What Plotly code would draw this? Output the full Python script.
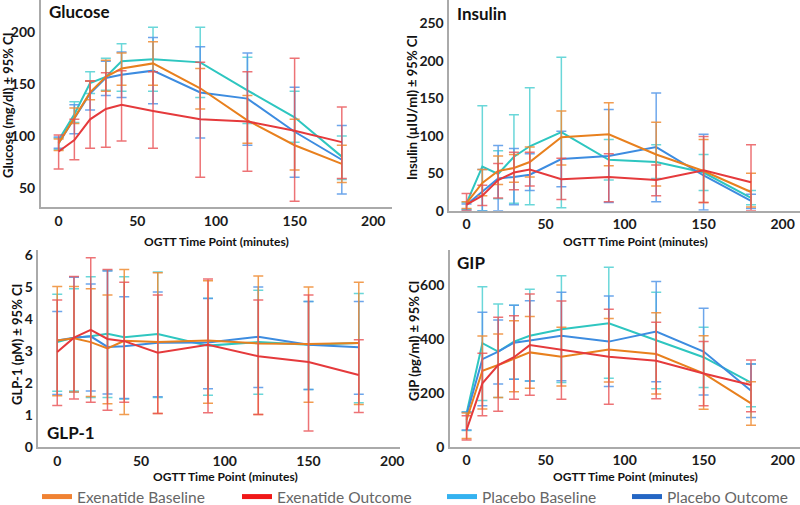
import plotly.graph_objects as go

time = [0, 10, 20, 30, 40, 60, 90, 120, 150, 180]
series_names = ["Exenatide Baseline", "Exenatide Outcome", "Placebo Baseline", "Placebo Outcome"]
x_ticks = [0, 50, 100, 150, 200]

# ---- Glucose (mg/dl) ----
glu_exb = [93, 118, 142, 157, 165, 170, 146, 115, 91, 73]
glu_exb_lo = [86, 112, 135, 143, 149, 149, 126, 93, 67, 55]
glu_exb_hi = [97, 127, 153, 173, 180, 191, 165, 139, 116, 91]
glu_exo = [85, 96, 116, 126, 130, 124, 116, 114, 105, 94]
glu_exo_lo = [68, 77, 88, 89, 95, 88, 60, 66, 37, 59]
glu_exo_hi = [101, 116, 153, 161, 163, 162, 171, 162, 175, 128]
glu_plb = [96, 121, 151, 157, 172, 174, 171, 144, 118, 80]
glu_plb_lo = [87, 113, 141, 144, 143, 143, 137, 112, 94, 58]
glu_plb_hi = [98, 133, 162, 175, 189, 205, 205, 176, 143, 100]
glu_plo = [93, 117, 141, 156, 159, 163, 142, 136, 104, 77]
glu_plo_lo = [88, 102, 125, 139, 137, 131, 98, 91, 60, 44]
glu_plo_hi = [99, 130, 153, 172, 181, 195, 186, 180, 147, 110]

# ---- Insulin (uIU/ml) ----
ins_exb = [10, 37, 53, 57, 65, 98, 102, 75, 53, 25]
ins_exb_lo = [3, 20, 35, 38, 45, 61, 60, 33, 11, 5]
ins_exb_hi = [12, 55, 73, 75, 85, 133, 144, 118, 95, 50]
ins_exo = [8, 20, 41, 51, 55, 42, 45, 41, 54, 38]
ins_exo_lo = [0, 7, 17, 28, 33, 15, 12, 20, 11, 0]
ins_exo_hi = [23, 34, 63, 78, 78, 70, 76, 61, 99, 88]
ins_plb = [10, 59, 49, 72, 86, 105, 68, 65, 51, 17]
ins_plb_lo = [2, 0, 16, 10, 8, 4, 41, 43, 27, 8]
ins_plb_hi = [11, 140, 80, 128, 164, 205, 95, 88, 75, 27]
ins_plo = [8, 25, 43, 45, 48, 69, 73, 85, 47, 13]
ins_plo_lo = [1, 0, 0, 8, 27, 32, 11, 12, 1, 3]
ins_plo_hi = [9, 55, 87, 83, 76, 106, 135, 157, 102, 22]

# ---- GLP-1 (pM) ----
glp_exb = [3.33, 3.40, 3.28, 3.08, 3.32, 3.28, 3.33, 3.24, 3.22, 3.25]
glp_exb_lo = [1.60, 1.72, 1.58, 1.35, 1.02, 1.05, 1.37, 1.02, 1.40, 1.33]
glp_exb_hi = [5.02, 5.02, 4.95, 4.75, 5.55, 5.45, 5.20, 5.35, 5.00, 5.15]
glp_exo = [2.97, 3.42, 3.66, 3.38, 3.31, 2.95, 3.20, 2.84, 2.66, 2.25]
glp_exo_lo = [1.30, 1.50, 1.40, 1.15, 1.40, 1.05, 1.07, 1.02, 0.50, 1.08]
glp_exo_hi = [4.60, 5.33, 5.92, 5.55, 5.15, 4.75, 5.25, 4.60, 4.75, 3.35]
glp_plb = [3.28, 3.42, 3.46, 3.54, 3.43, 3.53, 3.17, 3.28, 3.20, 3.25]
glp_plb_lo = [1.74, 1.75, 1.55, 1.55, 1.50, 1.55, 1.62, 1.65, 1.80, 1.38]
glp_plb_hi = [4.78, 4.95, 5.32, 5.52, 5.32, 5.47, 4.65, 4.90, 4.55, 4.80]
glp_plo = [3.33, 3.42, 3.46, 3.13, 3.15, 3.26, 3.27, 3.45, 3.20, 3.12]
glp_plo_lo = [1.64, 1.72, 1.75, 1.66, 1.52, 1.57, 1.82, 1.86, 1.80, 1.65]
glp_plo_hi = [4.24, 5.31, 5.10, 5.50, 4.70, 4.85, 4.64, 5.00, 4.55, 4.55]

# ---- GIP (pg/ml) ----
gip_exb = [100, 282, 303, 328, 350, 334, 361, 344, 272, 161]
gip_exb_lo = [30, 140, 183, 204, 217, 225, 240, 196, 139, 80]
gip_exb_hi = [125, 411, 418, 467, 483, 443, 476, 497, 412, 241]
gip_exo = [62, 235, 303, 332, 377, 359, 334, 319, 272, 229]
gip_exo_lo = [25, 115, 132, 176, 191, 176, 158, 178, 152, 130]
gip_exo_hi = [115, 347, 480, 486, 567, 541, 510, 462, 390, 322]
gip_plb = [124, 384, 353, 390, 412, 436, 458, 396, 332, 238]
gip_plb_lo = [60, 171, 183, 250, 244, 238, 254, 215, 220, 148]
gip_plb_hi = [130, 594, 530, 525, 584, 634, 666, 573, 443, 307]
gip_plo = [118, 325, 353, 386, 394, 412, 390, 427, 353, 208]
gip_plo_lo = [62, 152, 233, 250, 244, 245, 223, 241, 192, 108]
gip_plo_hi = [128, 499, 470, 525, 542, 573, 559, 613, 514, 307]

line_colors = ["#E8801E", "#E53A3C", "#2EC6C0", "#3D8CE0"]
err_colors = ["rgba(238,140,50,0.85)", "rgba(232,80,84,0.8)",
              "rgba(80,208,210,0.85)", "rgba(84,150,232,0.85)"]
legend_colors = ["#F08232", "#F01818", "#34B2F0", "#2466C4"]

W, H = 800, 505

def px_x(a, b):
    return [a / W, b / W]

def px_y(top, bottom):
    return [1 - bottom / H, 1 - top / H]

panels = [
    dict(ax="", data=[(glu_exb, glu_exb_lo, glu_exb_hi), (glu_exo, glu_exo_lo, glu_exo_hi),
                      (glu_plb, glu_plb_lo, glu_plb_hi), (glu_plo, glu_plo_lo, glu_plo_hi)]),
    dict(ax="2", data=[(ins_exb, ins_exb_lo, ins_exb_hi), (ins_exo, ins_exo_lo, ins_exo_hi),
                       (ins_plb, ins_plb_lo, ins_plb_hi), (ins_plo, ins_plo_lo, ins_plo_hi)]),
    dict(ax="3", data=[(glp_exb, glp_exb_lo, glp_exb_hi), (glp_exo, glp_exo_lo, glp_exo_hi),
                       (glp_plb, glp_plb_lo, glp_plb_hi), (glp_plo, glp_plo_lo, glp_plo_hi)]),
    dict(ax="4", data=[(gip_exb, gip_exb_lo, gip_exb_hi), (gip_exo, gip_exo_lo, gip_exo_hi),
                       (gip_plb, gip_plb_lo, gip_plb_hi), (gip_plo, gip_plo_lo, gip_plo_hi)]),
]

fig = go.Figure()
draw_order = [2, 3, 0, 1]
for p in panels:
    for i in draw_order:
        mean, lo, hi = p["data"][i]
        fig.add_trace(go.Scatter(
            x=time, y=mean, mode="lines",
            line=dict(color=line_colors[i], width=2),
            error_y=dict(type="data", symmetric=False,
                         array=[h - m for h, m in zip(hi, mean)],
                         arrayminus=[m - l for m, l in zip(mean, lo)],
                         color=err_colors[i], thickness=1.5, width=5),
            xaxis="x" + p["ax"], yaxis="y" + p["ax"],
            showlegend=False, name=series_names[i]))

# legend entries (one legend per entry for exact placement)
legend_names = ["legend", "legend2", "legend3", "legend4"]
legend_x = [37, 237, 442, 627]
legend_font = dict(family="Lato, Roboto, sans-serif", size=15.5, color="#666666")
for i in range(4):
    fig.add_trace(go.Scatter(x=[None], y=[None], mode="lines", name=series_names[i],
                             line=dict(color=legend_colors[i], width=5),
                             xaxis="x", yaxis="y", showlegend=True, legend=legend_names[i]))

tickfont = dict(family="Lato, Open Sans, sans-serif", size=14, color="#1a1a1a", weight="bold")
axis_common = dict(showline=True, linecolor="#aaaaaa", linewidth=1.5, showgrid=False,
                   zeroline=False, ticks="", ticklen=0, tickfont=tickfont)

layout_kw = dict(
    width=W, height=H, margin=dict(l=0, r=0, t=0, b=0, autoexpand=False),
    paper_bgcolor="white", plot_bgcolor="white",
    xaxis=dict(domain=px_x(40.7, 392), range=[-11.4, 211.9], tickvals=x_ticks, anchor="y", ticklabelstandoff=0, **axis_common),
    yaxis=dict(domain=px_y(0, 207.3), range=[31.1, 231.2], tickvals=[50, 100, 150, 200], anchor="x", ticklabelstandoff=1, **axis_common),
    xaxis2=dict(domain=px_x(449.3, 800), range=[-10.9, 211], tickvals=x_ticks, anchor="y2", ticklabelstandoff=0, **axis_common),
    yaxis2=dict(domain=px_y(0, 210.7), range=[0, 281.3], tickvals=[0, 50, 100, 150, 200, 250], anchor="x2", ticklabelstandoff=1, **axis_common),
    xaxis3=dict(domain=px_x(38.3, 400), range=[-11.3, 204.6], tickvals=x_ticks, anchor="y3", ticklabelstandoff=0, **axis_common),
    yaxis3=dict(domain=px_y(250, 447), range=[0, 6.16], tickvals=[0, 1, 2, 3, 4, 5, 6], anchor="x3", ticklabelstandoff=1, **axis_common),
    xaxis4=dict(domain=px_x(450, 800), range=[-10.5, 211], tickvals=x_ticks, anchor="y4", ticklabelstandoff=0, **axis_common),
    yaxis4=dict(domain=px_y(250, 446.7), range=[0, 730], tickvals=[0, 200, 400, 600], anchor="x4", ticklabelstandoff=1, **axis_common),
    showlegend=True,
)
for i, ln in enumerate(legend_names):
    layout_kw[ln] = dict(orientation="h", x=legend_x[i] / W, xanchor="left", y=1 - 497 / H, yanchor="middle",
                         font=legend_font, bgcolor="rgba(0,0,0,0)", itemwidth=30)
fig.update_layout(**layout_kw)

title_font = dict(family="Lato, Open Sans, sans-serif", size=17, color="#111", weight="bold")
ytitle_font = dict(family="Lato, Open Sans, sans-serif", size=13, color="#111", weight="bold")
xtitle_font = dict(family="Lato, Open Sans, sans-serif", size=12, color="#111", weight="bold")

annots = [
    dict(text="Glucose", x=47 / W, y=1 - 11 / H, xanchor="left", font=title_font),
    dict(text="Insulin", x=455 / W, y=1 - 13 / H, xanchor="left", font=title_font),
    dict(text="GLP-1", x=45 / W, y=1 - 432 / H, xanchor="left", font=title_font),
    dict(text="GIP", x=455 / W, y=1 - 262 / H, xanchor="left", font=title_font),
    dict(text="Glucose (mg/dl) ± 95% CI", x=8 / W, y=1 - 105 / H, textangle=-90, font=ytitle_font),
    dict(text="Insulin (µIU/ml) ± 95% CI", x=412 / W, y=1 - 108 / H, textangle=-90, font=ytitle_font),
    dict(text="GLP-1 (pM) ± 95% CI", x=17 / W, y=1 - 345 / H, textangle=-90, font=ytitle_font),
    dict(text="GIP (pg/ml) ± 95% CI", x=414 / W, y=1 - 341 / H, textangle=-90, font=ytitle_font),
    dict(text="OGTT Time Point (minutes)", x=216 / W, y=1 - 241 / H, font=xtitle_font),
    dict(text="OGTT Time Point (minutes)", x=635 / W, y=1 - 241 / H, font=xtitle_font),
    dict(text="OGTT Time Point (minutes)", x=225 / W, y=1 - 476 / H, font=xtitle_font),
    dict(text="OGTT Time Point (minutes)", x=625 / W, y=1 - 476 / H, font=xtitle_font),
]
for a in annots:
    a.setdefault("xanchor", "center")
    a.setdefault("yanchor", "middle")
    fig.add_annotation(xref="paper", yref="paper", showarrow=False, **a)

fig.write_html("out.html", config={"displayModeBar": False},
               post_script="document.body.style.margin='0';document.body.style.padding='0';")
